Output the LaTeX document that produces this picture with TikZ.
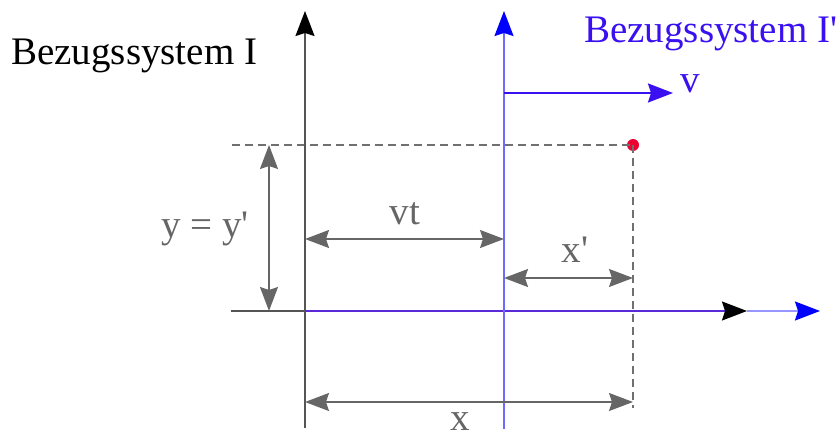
\documentclass[tikz,border=0pt]{standalone}
\usepackage{fontspec}
\setmainfont{Liberation Serif}
\usetikzlibrary{arrows.meta}
\definecolor{dimgray}{HTML}{666666}
\definecolor{axgray}{HTML}{555555}
\definecolor{dashgray}{HTML}{707070}
\definecolor{lblue}{HTML}{6B6BFF}
\definecolor{tblue}{HTML}{3A10F0}
\definecolor{mixaxis}{HTML}{5A2AD8}
\definecolor{dotred}{HTML}{EE0033}
\begin{document}
\begin{tikzpicture}[x=1pt,y=-1pt,
  lbl/.style={inner sep=0pt,anchor=base,font=\fontsize{39}{41}\selectfont},
  dimtip/.style={Stealth[length=24pt,width=18pt,inset=3pt]},
  axtipst/.style={Stealth[length=25pt,width=19pt,inset=3pt]},
  dimline/.style={draw=dimgray,line width=1.6pt,{Stealth[length=24pt,width=18pt,inset=3pt]}-{Stealth[length=24pt,width=18pt,inset=3pt]}},
  guide/.style={draw=dashgray,line width=1.5pt,dash pattern=on 8pt off 5pt}]
\useasboundingbox (0,0) rectangle (838,435);
% named points
\coordinate (Ib) at (305,428);
\coordinate (It) at (305,11);
\coordinate (Jb) at (504,429);
\coordinate (Jt) at (504,11);
\coordinate (Xl) at (231,311);
\coordinate (O) at (305,311);
\coordinate (Xe) at (747,311);
\coordinate (Xbe) at (820,311);
\coordinate (Hl) at (232,145);
\coordinate (Pb) at (633,408);
\coordinate (Vs) at (504,93);
\coordinate (Ve) at (673,93);
\coordinate (Ya) at (269,145);
\coordinate (Yb) at (269,311);
\coordinate (VtA) at (305,239);
\coordinate (VtB) at (504,239);
\coordinate (XpA) at (504,278);
\coordinate (XpB) at (633,278);
\coordinate (XA) at (305,402);
\coordinate (XB) at (633,402);
% point
\node[circle,fill=dotred,inner sep=0pt,minimum size=12pt] (P) at (633,145) {};
% dashed guides
\draw[guide] (Hl) -- (P.center);
\draw[guide] (P.center) -- (Pb);
% axes of I
\draw[axgray,line width=1.5pt,-{Stealth[length=25pt,width=19pt,inset=3pt,black]}] (Ib) -- (It);
\draw[axgray,line width=1.5pt] (Xl) -- (O);
\draw[mixaxis,line width=1.5pt,-{Stealth[length=25pt,width=19pt,inset=3pt,black]}] (O) -- (Xe);
% axes of I'
\draw[lblue,line width=1.5pt,-{Stealth[length=25pt,width=19pt,inset=3pt,blue]}] (Jb) -- (Jt);
\draw[lblue!70,line width=1.5pt,-{Stealth[length=25pt,width=19pt,inset=3pt,blue]}] (Xe) -- (Xbe);
% velocity
\draw[tblue,line width=2pt,-{Stealth[length=25pt,width=19pt,inset=3pt]}] (Vs) -- (Ve);
% dimensions
\draw[dimline] (Ya) -- (Yb);
\draw[dimline] (VtA) -- (VtB);
\draw[dimline] (XpA) -- (XpB);
\draw[dimline] (XA) -- (XB);
% labels
\node[lbl,anchor=base west] (tI) at (11,65) {Bezugssystem I};
\node[lbl,anchor=base west,text=tblue] (tJ) at (584,43) {Bezugssystem I\textquotesingle};
\node[lbl,text=tblue] (tv) at (690,93) {v};
\node[lbl,text=dimgray] (tvt) at (405,225) {vt};
\node[lbl,text=dimgray] (txp) at (575,263) {x\textquotesingle};
\node[lbl,text=dimgray] (tx) at (460,431) {x};
\node[lbl,text=dimgray] (ty) at (205,238) {y = y\textquotesingle};
\end{tikzpicture}
\end{document}
